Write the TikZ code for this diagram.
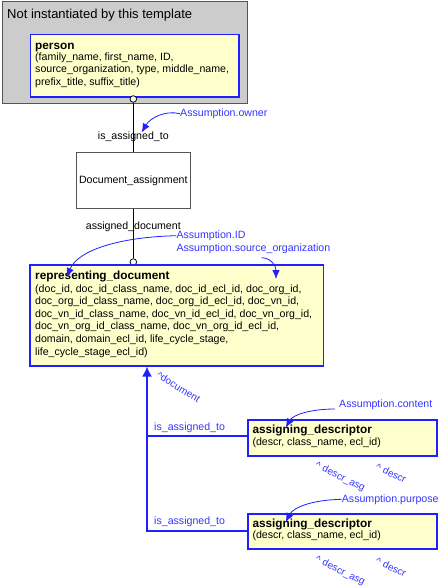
\documentclass[tikz,border=0pt]{standalone}
\usepackage{fontspec}
\setmainfont{Liberation Sans}
\usetikzlibrary{arrows.meta}
\definecolor{boxyellow}{HTML}{FFFFCC}
\definecolor{boxblue}{HTML}{2020FF}
\definecolor{lblblue}{HTML}{3535FF}
\definecolor{grpgray}{HTML}{CCCCCC}
\definecolor{grpline}{HTML}{555555}
\begin{document}
\begin{tikzpicture}[x=1pt,y=-1pt,
  body/.style={font=\fontsize{10.6}{12.6}\selectfont, inner sep=0pt, align=left, anchor=base west},
  ttl/.style={font=\bfseries\fontsize{11.8}{13}\selectfont, inner sep=0pt, anchor=base west},
  entity/.style={draw=boxblue, fill=boxyellow, line width=1.5pt, inner sep=0pt, anchor=north west},
  grp/.style={draw=grpline, fill=grpgray, line width=1pt, inner sep=0pt, anchor=north west},
  plain/.style={draw=grpline, fill=white, line width=1pt, inner sep=0pt},
  circ/.style={circle, draw=black, fill=white, line width=0.8pt, minimum size=6.6pt, inner sep=0pt},
  lbl/.style={font=\fontsize{10.6}{12.6}\selectfont, inner sep=0pt},
  blbl/.style={font=\fontsize{10.6}{12.6}\selectfont, inner sep=0pt, text=lblblue},
  rlbl/.style={font=\fontsize{10}{12}\selectfont, inner sep=0pt, text=lblblue, rotate=-26},
  asm/.style={draw=boxblue, line width=0.8pt, -{Latex[length=9pt,width=7.5pt]}},
  rel/.style={draw=boxblue, line width=1.8pt},
  blk/.style={draw=black, line width=0.9pt}]
\useasboundingbox (0,0) rectangle (438,587);
\fill[white] (0,0) rectangle (438,587);

% group
\node[grp, minimum width=245pt, minimum height=102pt] (group) at (2,1) {};
\node[inner sep=0pt, anchor=base west, font=\fontsize{13}{15}\selectfont] (grouptitle) at (7,18.5) {Not instantiated by this template};

% person
\node[entity, minimum width=208.5pt, minimum height=62.5pt] (person) at (29.5,33.5) {};
\node[ttl] (personT) at (35,49.3) {person};
\node[body] (personB) at (35,85.5) {(family\_name, first\_name, ID,\\source\_organization, type, middle\_name,\\prefix\_title, suffix\_title)};

% Document_assignment
\node[plain, minimum width=113.6pt, minimum height=56.7pt, font=\fontsize{10.6}{12.6}\selectfont] (docasg) at (133.3,180.6) {Document\_assignment};

% connectors black
\node[circ] (c1) at (133.3,99) {};
\node[circ] (c2) at (133.3,262) {};
\draw[blk] (c1) -- (docasg);
\draw[blk] (docasg) -- (c2);
\node[lbl] (lblA) at (133.3,136.3) {is\_assigned\_to};
\node[lbl] (lblB) at (133.3,227) {assigned\_document};

% representing_document
\node[entity, minimum width=293.4pt, minimum height=100.7pt] (rep) at (29.3,264.3) {};
\node[ttl] (repT) at (35,279.5) {representing\_document};
\node[body] (repB) at (35,355) {(doc\_id, doc\_id\_class\_name, doc\_id\_ecl\_id, doc\_org\_id,\\doc\_org\_id\_class\_name, doc\_org\_id\_ecl\_id, doc\_vn\_id,\\doc\_vn\_id\_class\_name, doc\_vn\_id\_ecl\_id, doc\_vn\_org\_id,\\doc\_vn\_org\_id\_class\_name, doc\_vn\_org\_id\_ecl\_id,\\domain, domain\_ecl\_id, life\_cycle\_stage,\\life\_cycle\_stage\_ecl\_id)};

% assigning_descriptor boxes
\node[entity, minimum width=189pt, minimum height=36pt] (ad1) at (247,419) {};
\node[ttl] (ad1T) at (252.3,433.5) {assigning\_descriptor};
\node[body] (ad1B) at (252.3,445) {(descr, class\_name, ecl\_id)};
\node[entity, minimum width=189pt, minimum height=35pt] (ad2) at (247,513) {};
\node[ttl] (ad2T) at (252.3,527) {assigning\_descriptor};
\node[body] (ad2B) at (252.3,538.5) {(descr, class\_name, ecl\_id)};

% blue relations
\coordinate (j) at (147,531);
\draw[rel] (ad1.west |- 0,436) -- (147,436);
\draw[rel, -{Latex[length=10pt,width=10pt]}] (ad2.west |- j) -- (j) -- (j |- rep.south);
\node[blbl] (lblC) at (189.6,428) {is\_assigned\_to};
\node[blbl] (lblD) at (189.6,522) {is\_assigned\_to};
\node[rlbl, rotate=-5] (rdoc) at (178.5,387) {\textasciicircum document};
\node[rlbl] (rasg1) at (340,477) {\textasciicircum\,\,descr\_asg};
\node[rlbl] (rdsc1) at (391,473) {\textasciicircum\,\,descr};
\node[rlbl] (rasg2) at (340,571) {\textasciicircum\,\,descr\_asg};
\node[rlbl] (rdsc2) at (391,567) {\textasciicircum\,\,descr};

% assumptions
\node[blbl, anchor=west] (aowner) at (180,113.7) {Assumption.owner};
\node[blbl, anchor=west] (aid) at (176.3,235.7) {Assumption.ID};
\node[blbl, anchor=west] (aorg) at (176.3,248.3) {Assumption.source\_organization};
\node[blbl, anchor=west] (acont) at (339,404.3) {Assumption.content};
\node[blbl, anchor=west] (apurp) at (341.7,499.3) {Assumption.purpose};
\coordinate (t1) at (141.7,132.5);
\coordinate (t2) at (66.7,277);
\coordinate (t3) at (276,279);
\coordinate (t4) at (285.7,427.5);
\coordinate (t5) at (285.7,522);
\draw[asm] (aowner.west) .. controls (165,110) and (150,118) .. (t1);
\draw[asm] (aid.west) .. controls (120,237) and (78,250) .. (t2);
\draw[asm] (261.7,257.7) .. controls (272,258) and (276,267) .. (t3);
\draw[asm] (335,409) .. controls (310,409) and (293,415) .. (t4);
\draw[asm] (apurp.west) .. controls (310,500) and (293,508) .. (t5);
\end{tikzpicture}
\end{document}
